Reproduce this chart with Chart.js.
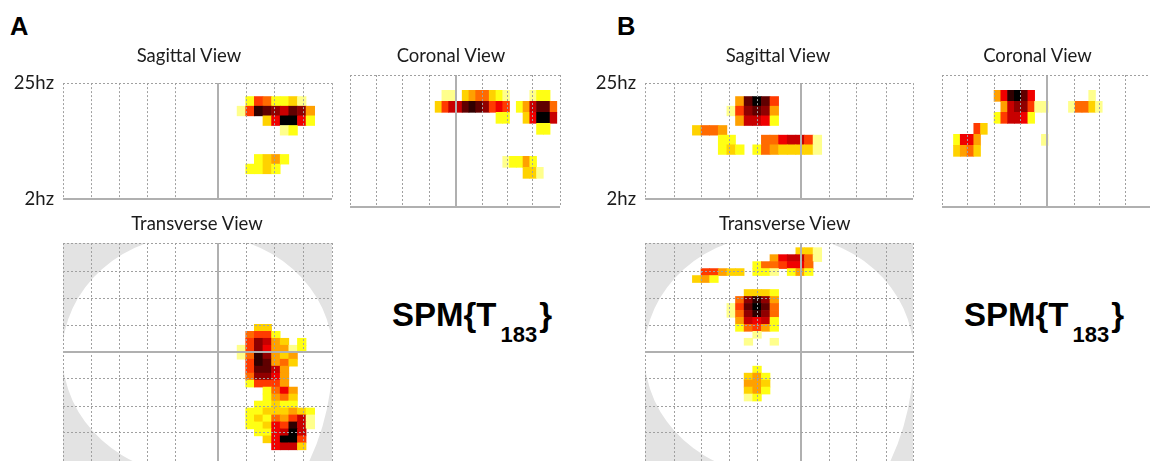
<!DOCTYPE html>
<html><head><meta charset="utf-8">
<script src="https://cdn.jsdelivr.net/npm/chart.js@4.4.0/dist/chart.umd.min.js"></script>
<style>
html,body{margin:0;padding:0;background:#fff;}
#page{position:relative;width:1150px;height:461px;overflow:hidden;background:#fff;}
#page canvas{position:absolute;}
.lbl{position:absolute;white-space:nowrap;line-height:1;color:#1c1c1c;}
.title{font-family:Lato,'Open Sans',sans-serif;font-size:18.5px;transform:translateX(-50%);}
.panel{font-family:'Liberation Sans',Arial,sans-serif;font-weight:bold;font-size:25.5px;color:#000;}
.spm{font-family:'Liberation Sans',Arial,sans-serif;font-weight:bold;font-size:33px;color:#000;}
.spm .sub{font-size:22px;position:relative;top:16px;margin-left:4px;margin-right:2px;}
</style></head>
<body><div id="page"></div>
<script>
// ---------------- data ----------------
const PANEL_LABELS = ['A', 'B'];
const VIEW_TITLES = ['Sagittal View', 'Coronal View', 'Transverse View'];
const STAT_NAME = 'SPM{T';
const STAT_DF = '183';
const FREQ_TICK_VALUES = [2, 25];
const FREQ_TICK_LABELS = ['2hz', '25hz'];

// intensity levels: '.' = none, '1' (weak, pale yellow) ... 'c' (strongest, black)
// each string = one row of cells (top to bottom), one character per column
const sagittalA = [
  '.......... .......... .2652231...',
  '.......... .......... 16ba98a94..',
  '.......... .......... ...37cc72..',
  '.......... .......... .....12....',
  '', '',
  '.......... .......... ..2342.....',
  '.......... .......... .2232......',
  '', '', '', ''
];
const coronalA = [
  '.......... ...11.3455 321...122..',
  '.......... ..3688aba9 676.248aa5.',
  '.......... .......... .22..37cc8.',
  '.......... .......... .......22..',
  '', '',
  '.......... .......... ..12242....',
  '.......... .......... .....331...',
  '', '', '', ''
];
const transverseA = [
  '', '', '', '', '', '', '', '', '', '', '', '',
  '.......... .......... ..33.......',
  '.......... .......... .5662......',
  '.......... .......... .69843.2...',
  '.......... .......... 16974412...',
  '.......... .......... 15b9434....',
  '.......... .......... .6ba453....',
  '.......... .......... .6aa84.....',
  '.......... .......... .59974.....',
  '.......... .......... .26664.....',
  '.......... .......... ...2574....',
  '.......... .......... ...2453....',
  '.......... .......... ..22322....',
  '.......... .......... .22333432..',
  '.......... .......... .23254681..',
  '.......... .......... .22376b81..',
  '.......... .......... ..2278c8...',
  '.......... .......... ...37cc6...',
  '.......... .......... ....7883...',
  '', ''
];
const sagittalB = [
  '.......... 4aca6.....',
  '.........1 69a94.....',
  '.......... 48872.....',
  '.....3554. ..........',
  '........22 ...5578861',
  '........23 2.25433331',
  '', '', '', '', '', ''
];
const coronalB = [
  '.......47b ca7....... .1',
  '........48 99611...15 531',
  '.......268 872',
  '....63',
  '.2774..... ....1',
  '.3453',
  '', '', '', '', '', ''
];
const transverseB = [
  '',
  '.......... .......331',
  '.......... ....478851',
  '.......... ..2556775.',
  '......6643 3.221.242.',
  '.....342..',
  '',
  '.......... .3332',
  '.......... 59b94',
  '.........1 6aca5',
  '.........1 59b95',
  '.......... 48782',
  '.......... 25642',
  '.......... ..1',
  '.......... .1..1',
  '', '', '',
  '.......... ..2',
  '.......... .342',
  '.......... .443',
  '.......... .342',
  '.......... .12',
  '', '', '', '', '', '', '', '', ''
];

// ---------------- styles / layout ----------------
const PALETTE = {
  '1': '#ffff8c', '2': '#ffff14', '3': '#ffd200', '4': '#ffa000',
  '5': '#ff6a00', '6': '#ff3a00', '7': '#f00000', '8': '#c80000',
  '9': '#900000', 'a': '#600000', 'b': '#300000', 'c': '#000000'
};
const DOT_COLOR = '#a0a0a0';
const CROSS_COLOR = '#b0b0b0';
const OUTSIDE_GRAY = '#e3e3e3';
const HZ_TOP = 22.33, HZ_ROW = 1.917;
const PAD = {left: 1, right: 1, top: 12, bottom: 12};
const Y_AXIS_W = 60;

const X_A = {min: -0.2, max: 31.01, lines: [3.13, 6.33, 9.63, 12.87, 17.82, 21.11, 24.39, 27.68], cross: 17.82};
const X_B = {min: -0.5, max: 30.59, lines: [2.90, 6.08, 9.28, 12.57, 17.6, 20.88, 24.06, 27.46], cross: 17.6};
const XC_A = {min: -0.59, max: 30.47, lines: [3.26, 7.21, 11.1, 15.05, 18.99, 22.69, 26.44], cross: 15.05};
const XC_B = {min: -0.7, max: 30.36, lines: [3.10, 7.04, 10.94, 14.88, 18.83, 22.53, 26.37], cross: 14.88};
const Y_FREQ = {min: 2, max: 25, lines: [], cross: 2, reverse: false};
const Y_TRA = {min: 0.33, max: 31.75, lines: [4.35, 8.26, 12.1, 15.93, 19.74, 23.72, 27.55], cross: 15.93, reverse: true};
// head outline of the transverse view (row units): centre row and half-heights per quadrant
const OUTLINE = {cy: 16.26, top: 17.2, bottomLeft: 17.5, bottomRight: 27.3, widen: 1.005};

const VIEWS = [
  {rows: sagittalA,   kind: 'freq', frame: {l: 63,  t: 75,  w: 269, h: 132}, x: X_A,  y: Y_FREQ, yLabels: true},
  {rows: coronalA,    kind: 'freq', frame: {l: 350, t: 75,  w: 210, h: 132}, x: XC_A, y: Y_FREQ},
  {rows: transverseA, kind: 'tra',  frame: {l: 63,  t: 243, w: 269, h: 219}, x: X_A,  y: Y_TRA},
  {rows: sagittalB,   kind: 'freq', frame: {l: 645, t: 75,  w: 268, h: 132}, x: X_B,  y: Y_FREQ, yLabels: true},
  {rows: coronalB,    kind: 'freq', frame: {l: 942, t: 75,  w: 210, h: 132}, x: XC_B, y: Y_FREQ},
  {rows: transverseB, kind: 'tra',  frame: {l: 645, t: 243, w: 268, h: 219}, x: X_B,  y: Y_TRA}
];

const TITLE_POS = [
  {text: 0, cx: 189, top: 46}, {text: 1, cx: 451, top: 46}, {text: 2, cx: 197, top: 213.5},
  {text: 0, cx: 778, top: 46}, {text: 1, cx: 1037.5, top: 46}, {text: 2, cx: 784.7, top: 213.5}
];

// ---------------- build ----------------
const page = document.getElementById('page');

function cellsFrom(rows, yOf) {
  const out = [];
  rows.forEach((row, i) => {
    const s = row.replace(/ /g, '');
    for (let c = 0; c < s.length; c++) {
      const v = s[c];
      if (v === '.') continue;
      out.push({x: c + 0.5, y: yOf(i), v: v});
    }
  });
  return out;
}

const brainOutline = {
  id: 'brainOutline',
  beforeDatasetsDraw(chart, args, opts) {
    if (!opts || !opts.enabled) return;
    const {ctx, chartArea: a} = chart;
    const xs = chart.scales.x, ys = chart.scales.y;
    ctx.save();
    ctx.beginPath();
    ctx.rect(a.left, a.top, a.right - a.left, a.bottom - a.top);
    ctx.clip();
    ctx.fillStyle = opts.outside;
    ctx.fillRect(a.left, a.top, a.right - a.left, a.bottom - a.top);
    const cx = xs.getPixelForValue(opts.cx), cy = ys.getPixelForValue(opts.cy);
    const rx = Math.abs(xs.getPixelForValue(opts.cx + opts.rx) - cx);
    const ryOf = r => Math.abs(ys.getPixelForValue(opts.cy + r) - cy);
    ctx.beginPath();
    ctx.ellipse(cx, cy, rx, ryOf(opts.bottomRight), 0, 0, Math.PI / 2);
    ctx.ellipse(cx, cy, rx, ryOf(opts.bottomLeft), 0, Math.PI / 2, Math.PI);
    ctx.ellipse(cx, cy, rx, ryOf(opts.top), 0, Math.PI, Math.PI * 2);
    ctx.closePath();
    ctx.fillStyle = opts.inside;
    ctx.fill();
    ctx.restore();
  }
};

function isCross(ctx, cross) {
  return !!(ctx && ctx.tick && Math.abs(ctx.tick.value - cross) < 1e-6);
}

function axisConf(ax, extra) {
  const vals = [ax.min, ...ax.lines, ax.max];
  return Object.assign({
    type: 'linear', min: ax.min, max: ax.max, bounds: 'data', offset: false,
    beginAtZero: false, reverse: !!ax.reverse,
    afterBuildTicks: (scale) => { scale.ticks = vals.map(v => ({value: v})); },
    grid: {
      z: 1, drawTicks: false, offset: false,
      color: c => isCross(c, ax.cross) ? CROSS_COLOR : DOT_COLOR,
      lineWidth: c => isCross(c, ax.cross) ? 2 : 1
    },
    border: {display: false, dash: c => isCross(c, ax.cross) ? [] : [2, 2]},
    ticks: {display: false}
  }, extra || {});
}

VIEWS.forEach((view) => {
  const yOf = view.kind === 'freq'
    ? (i => { const top = HZ_TOP - i * HZ_ROW; return [top - HZ_ROW, top]; })
    : (i => [i, i + 1]);
  const cells = cellsFrom(view.rows, yOf);
  const axisW = view.yLabels ? Y_AXIS_W : 0;
  const f = view.frame;
  const canvas = document.createElement('canvas');
  const cw = f.w + axisW + PAD.left + PAD.right;
  const ch = f.h + PAD.top + PAD.bottom;
  canvas.width = cw; canvas.height = ch;
  canvas.style.left = (f.l - axisW - PAD.left) + 'px';
  canvas.style.top = (f.t - PAD.top) + 'px';
  canvas.style.width = cw + 'px'; canvas.style.height = ch + 'px';
  page.appendChild(canvas);

  const yExtra = view.yLabels ? {
    afterBuildTicks: (scale) => { scale.ticks = FREQ_TICK_VALUES.map(v => ({value: v})); },
    afterFit: (scale) => { scale.width = Y_AXIS_W; },
    ticks: {
      display: true, padding: 9, color: '#1c1c1c',
      font: {family: 'Lato, "Open Sans", sans-serif', size: 18.5},
      callback: (v) => FREQ_TICK_LABELS[FREQ_TICK_VALUES.indexOf(v)]
    }
  } : null;

  const xa = view.x, ya = view.y;
  new Chart(canvas, {
    type: 'bar',
    data: {
      datasets: [{
        data: cells,
        backgroundColor: c => PALETTE[(c.raw && c.raw.v) || '1'],
        borderWidth: 0,
        barPercentage: 1,
        categoryPercentage: 1
      }]
    },
    options: {
      responsive: false, animation: false, events: [],
      layout: {padding: PAD},
      plugins: {
        legend: {display: false}, tooltip: {enabled: false}, title: {display: false},
        brainOutline: view.kind === 'tra' ? {
          enabled: true, outside: OUTSIDE_GRAY, inside: '#ffffff',
          cx: (xa.min + xa.max) / 2, rx: (xa.max - xa.min) / 2 * OUTLINE.widen,
          cy: OUTLINE.cy, top: OUTLINE.top, bottomLeft: OUTLINE.bottomLeft, bottomRight: OUTLINE.bottomRight
        } : {enabled: false}
      },
      scales: {
        x: axisConf(xa, {position: 'bottom'}),
        y: Object.assign(axisConf(ya, {position: 'left'}), yExtra ? {
          afterBuildTicks: yExtra.afterBuildTicks, afterFit: yExtra.afterFit, ticks: yExtra.ticks
        } : {})
      }
    },
    plugins: [brainOutline]
  });
});

// titles and labels
TITLE_POS.forEach(p => {
  const d = document.createElement('div');
  d.className = 'lbl title';
  d.textContent = VIEW_TITLES[p.text];
  d.style.left = p.cx + 'px'; d.style.top = p.top + 'px';
  page.appendChild(d);
});
[{t: PANEL_LABELS[0], l: 10, top: 13.5}, {t: PANEL_LABELS[1], l: 617, top: 13.5}].forEach(p => {
  const d = document.createElement('div');
  d.className = 'lbl panel';
  d.textContent = p.t;
  d.style.left = p.l + 'px'; d.style.top = p.top + 'px';
  page.appendChild(d);
});
[{l: 392, top: 298}, {l: 964, top: 298}].forEach(p => {
  const d = document.createElement('div');
  d.className = 'lbl spm';
  d.appendChild(document.createTextNode(STAT_NAME));
  const s = document.createElement('span');
  s.className = 'sub'; s.textContent = STAT_DF;
  d.appendChild(s);
  d.appendChild(document.createTextNode('}'));
  d.style.left = p.l + 'px'; d.style.top = p.top + 'px';
  page.appendChild(d);
});
</script>
</body></html>
